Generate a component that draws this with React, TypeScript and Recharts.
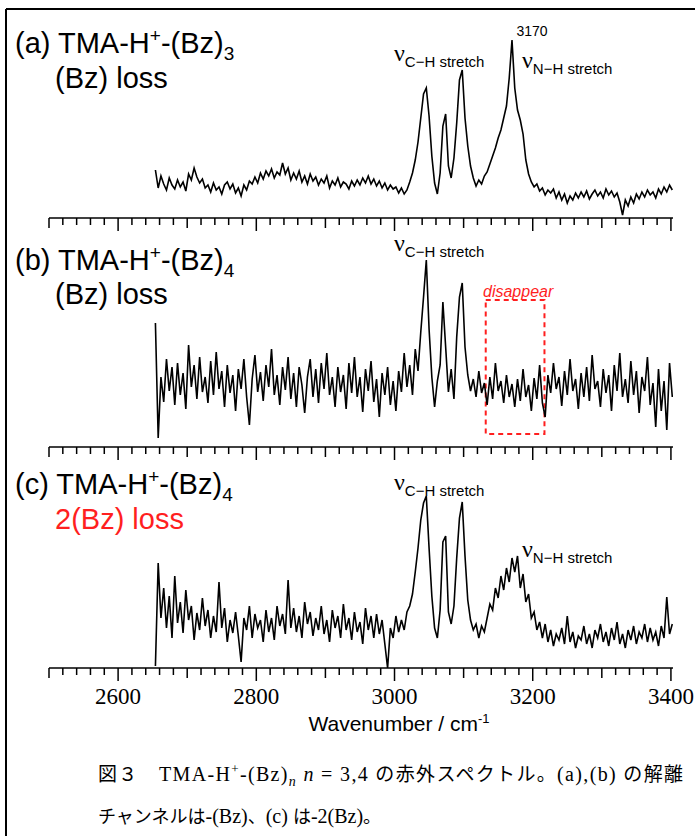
import React from "react";
import { LineChart, Line, XAxis, YAxis, ReferenceArea } from "recharts";

// sampling grid of the scans (cm-1)
const WN_START = 2654;
const WN_STEP = 4;

// (a) TMA-H+-(Bz)3, (Bz) loss channel
const SPEC_A = [
  48, 30, 42, 34, 28, 40, 33, 29, 38, 31,
  36, 27, 44, 38, 50, 41, 35, 39, 30, 33,
  26, 35, 28, 31, 24, 33, 36, 29, 34, 25,
  30, 22, 33, 28, 37, 34, 41, 35, 45, 39,
  47, 42, 49, 40, 46, 43, 55, 44, 50, 38,
  45, 39, 47, 36, 42, 34, 44, 37, 41, 33,
  39, 35, 42, 30, 37, 33, 40, 31, 36, 34,
  29, 37, 32, 38, 33, 40, 35, 42, 34, 39,
  32, 37, 30, 35, 28, 33, 29, 31, 25, 30,
  24, 28, 36, 45, 58, 76, 100, 124, 130, 102,
  62, 35, 24, 45, 92, 104, 52, 40, 60, 95,
  138, 148, 100, 72, 52, 40, 32, 38, 34, 42,
  46, 54, 62, 70, 80, 88, 100, 112, 140, 178,
  130, 108, 98, 84, 58, 44, 36, 31, 34, 27,
  30, 23, 28, 25, 29, 20, 26, 18, 24, 15,
  22, 18, 25, 20, 26, 21, 27, 19, 24, 28,
  22, 26, 20, 29, 23, 27, 21, 25, 16, 3,
  18, 12, 21, 15, 24, 19, 26, 21, 28, 23,
  26, 20, 29, 24, 31, 26, 33, 28,
];

// (b) TMA-H+-(Bz)4, (Bz) loss channel
const SPEC_B = [
  124, 9, 70, 45, 88, 56, 80, 42, 84, 52,
  74, 38, 102, 60, 82, 48, 90, 55, 70, 44,
  86, 52, 95, 58, 76, 40, 82, 54, 72, 36,
  78, 58, 88, 50, 22, 68, 92, 55, 75, 46,
  82, 60, 98, 52, 72, 42, 80, 57, 90, 48,
  74, 40, 80, 62, 34, 70, 88, 50, 78, 44,
  84, 58, 94, 52, 70, 40, 80, 55, 72, 38,
  84, 54, 90, 50, 70, 35, 78, 56, 86, 45,
  68, 30, 74, 52, 80, 42, 66, 36, 76, 55,
  94, 60, 82, 52, 98, 76, 115, 150, 187, 118,
  70, 40, 66, 82, 145, 100, 55, 78, 48, 110,
  150, 164, 100, 72, 56, 68, 50, 76, 54, 64,
  42, 70, 48, 84, 56, 66, 44, 72, 50, 63,
  40, 68, 46, 78, 50, 62, 36, 69, 48, 82,
  44, 30, 72, 54, 84, 58, 70, 41, 76, 52,
  88, 56, 68, 38, 74, 50, 80, 46, 92, 58,
  66, 40, 78, 54, 72, 36, 82, 56, 94, 50,
  68, 44, 86, 52, 76, 34, 70, 56, 90, 42,
  64, 20, 78, 36, 66, 17, 84, 50,
];

// (c) TMA-H+-(Bz)4, 2(Bz) loss channel
const SPEC_C = [
  2, 105, 50, 80, 40, 72, 30, 92, 45, 66,
  35, 78, 48, 62, 28, 55, 38, 70, 42, 58,
  30, 52, 36, 86, 40, 60, 26, 48, 35, 56,
  32, 6, 50, 38, 62, 30, 54, 40, 48, 26,
  58, 36, 50, 28, 62, 42, 54, 34, 88, 40,
  60, 36, 52, 30, 66, 44, 56, 32, 50, 38,
  62, 34, 48, 26, 58, 40, 52, 30, 64, 38,
  50, 28, 56, 36, 46, 24, 60, 38, 52, 30,
  54, 34, 48, 24, 0, 40, 30, 52, 36, 48,
  38, 56, 62, 74, 96, 120, 148, 165, 172, 120,
  72, 40, 30, 58, 126, 132, 56, 44, 62, 110,
  150, 166, 112, 68, 48, 38, 44, 30, 42, 36,
  50, 64, 58, 80, 70, 92, 78, 100, 86, 110,
  96, 112, 80, 94, 66, 74, 50, 56, 38, 46,
  30, 44, 26, 38, 22, 34, 28, 40, 24, 52,
  26, 36, 20, 32, 28, 42, 24, 34, 20, 38,
  30, 44, 26, 36, 22, 40, 28, 46, 24, 34,
  20, 38, 28, 42, 24, 36, 30, 44, 26, 40,
  28, 36, 22, 42, 30, 71, 34, 44,
];

const X_DOMAIN = [2500, 3403];
const TICK_LABELS = [2600, 2800, 3000, 3200, 3400];
const TICKS = Array.from({ length: 46 }, (_, i) => 2500 + i * 20);

// "disappear" box in panel (b)
const BOX = { x1: 3132, x2: 3217, y1: 13, y2: 147 };

const SANS = "'Liberation Sans', Arial, sans-serif";
const SERIF = "'Liberation Serif', 'Times New Roman', serif";
const CJK = "'Noto Sans CJK JP', sans-serif";
const RED = "#ff1f1f";

function toRows(values: number[]) {
  return values.map((v, i) => ({ wn: WN_START + i * WN_STEP, v }));
}

function AxisTick(props: any) {
  const { x, y, payload, showLabel } = props;
  const v = payload.value;
  const len = v % 200 === 0 ? 13 : v % 100 === 0 ? 10 : 7;
  return (
    <g>
      <line x1={x} y1={y} x2={x} y2={y + len} stroke="#000" strokeWidth={1.5} />
      {showLabel && TICK_LABELS.includes(v) && (
        <text x={x} y={y + 36} textAnchor="middle" fontFamily={SERIF} fontSize={23} fill="#000">
          {v}
        </text>
      )}
    </g>
  );
}

function Panel({
  values,
  axisY,
  showLabels,
  children,
}: {
  values: number[];
  axisY: number;
  showLabels?: boolean;
  children?: React.ReactNode;
}) {
  return (
    <div style={{ position: "absolute", left: 0, top: axisY - 200 }}>
      <LineChart
        width={695}
        height={250}
        data={toRows(values)}
        margin={{ top: 0, right: 22, bottom: 0, left: 49 }}
      >
        <XAxis
          type="number"
          dataKey="wn"
          domain={X_DOMAIN}
          ticks={TICKS}
          interval={0}
          tickLine={false}
          tickSize={0}
          tickMargin={0}
          height={50}
          axisLine={{ stroke: "#000", strokeWidth: 1.5 }}
          tick={(p: any) => <AxisTick {...p} showLabel={showLabels} />}
          allowDataOverflow
        />
        <YAxis hide domain={[0, 200]} allowDataOverflow />
        <Line
          type="linear"
          dataKey="v"
          stroke="#000"
          strokeWidth={1.6}
          dot={false}
          isAnimationActive={false}
        />
        {children}
      </LineChart>
    </div>
  );
}

function Title({ x, y, letter, n }: { x: number; y: number; letter: string; n: number }) {
  return (
    <text x={x} y={y} fontFamily={SANS} fontSize={29} fill="#000">
      ({letter}) TMA-H
      <tspan fontSize={19} dy={-11}>+</tspan>
      <tspan dy={11}>-(Bz)</tspan>
      <tspan fontSize={19} dy={7}>{n}</tspan>
    </text>
  );
}

function Nu({ x, y, sub }: { x: number; y: number; sub: string }) {
  return (
    <text x={x} y={y} fill="#000">
      <tspan fontFamily={SERIF} fontSize={24}>ν</tspan>
      <tspan fontFamily={SANS} fontSize={15} dy={6}>{sub}</tspan>
    </text>
  );
}

export default function App() {
  return (
    <div
      style={{
        position: "absolute",
        left: 0,
        top: 0,
        width: 695,
        height: 836,
        background: "#fff",
        overflow: "hidden",
      }}
    >
      <Panel values={SPEC_A} axisY={218} />
      <Panel values={SPEC_B} axisY={447}>
        <ReferenceArea
          x1={BOX.x1}
          x2={BOX.x2}
          y1={BOX.y1}
          y2={BOX.y2}
          fill="none"
          fillOpacity={0}
          stroke={RED}
          strokeWidth={2}
          strokeDasharray="5 4"
          ifOverflow="visible"
        />
      </Panel>
      <Panel values={SPEC_C} axisY={668} showLabels />

      <svg
        width={695}
        height={836}
        style={{ position: "absolute", left: 0, top: 0, pointerEvents: "none" }}
      >
        <line x1={6} y1={9} x2={695} y2={9} stroke="#000" strokeWidth={2} />
        <line x1={6} y1={9} x2={6} y2={836} stroke="#000" strokeWidth={2} />

        <Title x={15} y={53} letter="a" n={3} />
        <text x={55} y={88} fontFamily={SANS} fontSize={29} fill="#000">(Bz) loss</text>
        <Title x={15} y={270} letter="b" n={4} />
        <text x={55} y={304} fontFamily={SANS} fontSize={29} fill="#000">(Bz) loss</text>
        <Title x={15} y={494} letter="c" n={4} />
        <text x={55} y={529} fontFamily={SANS} fontSize={29} fill={RED}>2(Bz) loss</text>

        <text x={532} y={36} textAnchor="middle" fontFamily={SANS} fontSize={14} fill="#000">3170</text>
        <Nu x={394} y={61} sub="C−H stretch" />
        <Nu x={522} y={68} sub="N−H stretch" />
        <Nu x={394} y={251} sub="C−H stretch" />
        <Nu x={394} y={490} sub="C−H stretch" />
        <Nu x={522} y={557} sub="N−H stretch" />

        <text x={483} y={297} fontFamily={SANS} fontSize={16} fontStyle="italic" fill={RED}>disappear</text>

        <text x={399} y={731} textAnchor="middle" fontFamily={SANS} fontSize={21} fill="#000">
          Wavenumber / cm<tspan fontSize={13} dy={-8}>-1</tspan>
        </text>

        {/* caption, first line justified to the full width */}
        <text
          x={98}
          y={781}
          fontSize={20}
          fontFamily={SERIF}
          fill="#000"
          textLength={585}
          lengthAdjust="spacing"
        >
          <tspan fontFamily={CJK} fontSize={19}>図３　</tspan>
          <tspan>TMA-H</tspan>
          <tspan fontSize={13} dy={-8}>+</tspan>
          <tspan dy={8}>-(Bz)</tspan>
          <tspan fontSize={14} dy={5} fontStyle="italic">n</tspan>
          <tspan dy={-5} fontStyle="italic"> n</tspan>
          <tspan> = 3,4 </tspan>
          <tspan fontFamily={CJK} fontSize={19}>の赤外スペクトル。</tspan>
          <tspan>(a),(b) </tspan>
          <tspan fontFamily={CJK} fontSize={19}>の解離</tspan>
        </text>
        <text x={98} y={823} fontSize={20} fontFamily={SERIF} fill="#000">
          <tspan fontFamily={CJK} fontSize={18}>チャンネルは</tspan>
          <tspan>-(Bz)</tspan>
          <tspan fontFamily={CJK} fontSize={18}>、</tspan>
          <tspan>(c) </tspan>
          <tspan fontFamily={CJK} fontSize={18}>は</tspan>
          <tspan>-2(Bz)</tspan>
          <tspan fontFamily={CJK} fontSize={18}>。</tspan>
        </text>
      </svg>
    </div>
  );
}
